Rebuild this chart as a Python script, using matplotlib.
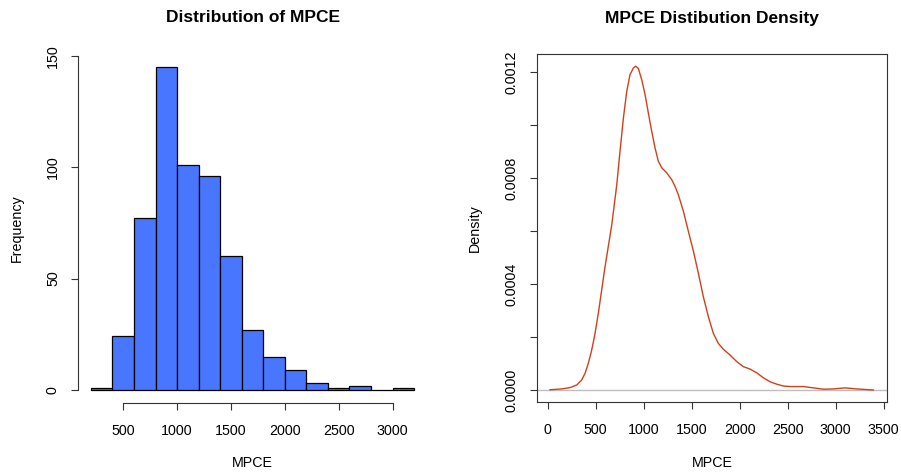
import matplotlib
matplotlib.use('Agg')
import matplotlib.pyplot as plt

plt.rcParams['font.family'] = ['Liberation Sans', 'DejaVu Sans']

# histogram of MPCE (bin edges and counts)
bin_edges = [200, 400, 600, 800, 1000, 1200, 1400, 1600, 1800, 2000,
             2200, 2400, 2600, 2800, 3000, 3200]
counts = [1, 24, 77, 145, 101, 96, 60, 27, 15, 9, 3, 1, 2, 0, 1]

# density curve
dens_x = [24, 146, 232, 302, 354, 389, 423, 458, 493, 527, 562, 597, 625,
          667, 719, 753, 788, 823, 857, 892, 917, 944, 979, 1014, 1048,
          1083, 1118, 1152, 1188, 1240, 1292, 1326, 1360, 1413, 1465, 1517,
          1569, 1621, 1673, 1725, 1777, 1829, 1899, 1969, 2038, 2107, 2177,
          2246, 2316, 2385, 2454, 2524, 2663, 2767, 2871, 2975, 3097, 3219,
          3392]
dens_y = [0.000001, 0.000004, 0.000009, 0.000019, 0.000038, 0.000063,
          0.000101, 0.000151, 0.000214, 0.000290, 0.000378, 0.000466,
          0.000529, 0.000624, 0.000775, 0.000902, 0.001027, 0.001128,
          0.001191, 0.001216, 0.001223, 0.001214, 0.001172, 0.001115,
          0.001046, 0.000977, 0.000914, 0.000864, 0.000839, 0.000820,
          0.000794, 0.000769, 0.000738, 0.000675, 0.000599, 0.000525,
          0.000441, 0.000352, 0.000277, 0.000214, 0.000176, 0.000154,
          0.000132, 0.000107, 0.000088, 0.000079, 0.000065, 0.000046,
          0.000031, 0.000022, 0.000015, 0.000013, 0.000013, 0.000008,
          0.000003, 0.000004, 0.000008, 0.000004, 0.0]

dens_xticks = [0, 500, 1000, 1500, 2000, 2500, 3000, 3500]
dens_yticks = [0.0, 0.0002, 0.0004, 0.0006, 0.0008, 0.0010, 0.0012]
dens_ylabels = ['0.0000', '', '0.0004', '', '0.0008', '', '0.0012']

fs = 10.3
W, H = 901, 474

fig = plt.figure(figsize=(W / 100, H / 100), dpi=100)

# ---- left: histogram ----
ax1 = fig.add_axes([78 / W, (H - 402.9) / H, 349 / W, 349 / H])
widths = [bin_edges[i + 1] - bin_edges[i] for i in range(len(counts))]
ax1.bar(bin_edges[:-1], counts, width=widths, align='edge',
        color='#4876FF', edgecolor='black', linewidth=0.9)
ax1.set_xlim(80, 3320)
ax1.set_ylim(-5.8, 150.8)
ax1.set_xticks([500, 1000, 1500, 2000, 2500, 3000])
ax1.set_yticks([0, 50, 100, 150])
for s in ['top', 'right']:
    ax1.spines[s].set_visible(False)
ax1.spines['left'].set_bounds(0, 150)
ax1.spines['bottom'].set_bounds(500, 3000)
for s in ['left', 'bottom']:
    ax1.spines[s].set_linewidth(0.8)
    ax1.spines[s].set_color('#333333')
ax1.tick_params(direction='out', length=5, width=0.8, color='#333333',
                labelsize=fs, pad=10)
ax1.tick_params(axis='y', labelrotation=90, pad=8)
for t in ax1.get_yticklabels():
    t.set_va('center')
ax1.set_title('Distribution of MPCE', fontsize=12.5, fontweight='bold',
              y=1.103, va='center', pad=0)
ax1.set_xlabel('MPCE', fontsize=fs, va='center')
ax1.xaxis.set_label_coords(0.5, -0.172)
ax1.set_ylabel('Frequency', fontsize=fs, va='center')
ax1.yaxis.set_label_coords(-0.175, 0.5)

# ---- right: density ----
ax2 = fig.add_axes([536.7 / W, (H - 402.3) / H, 350.6 / W, 348.3 / H])
ax2.axhline(0, color='#BEBEBE', linewidth=1)
ax2.plot(dens_x, dens_y, color='#D2401A', linewidth=1)
ax2.set_xlim(-115, 3537)
ax2.set_ylim(-0.0000465, 0.001269)
ax2.set_xticks(dens_xticks)
ax2.set_yticks(dens_yticks)
ax2.set_yticklabels(dens_ylabels)
for s in ax2.spines.values():
    s.set_linewidth(0.8)
    s.set_color('#333333')
ax2.tick_params(direction='out', length=5, width=0.8, color='#333333',
                labelsize=fs, pad=10)
ax2.tick_params(axis='y', labelrotation=90, pad=8)
for t in ax2.get_yticklabels():
    t.set_va('center')
ax2.set_title('MPCE Distibution Density', fontsize=12.5, fontweight='bold',
              y=1.103, va='center', pad=0)
ax2.set_xlabel('MPCE', fontsize=fs, va='center')
ax2.xaxis.set_label_coords(0.5, -0.174)
ax2.set_ylabel('Density', fontsize=fs, va='center')
ax2.yaxis.set_label_coords(-0.176, 0.5)

fig.savefig('out.png', dpi=100)
